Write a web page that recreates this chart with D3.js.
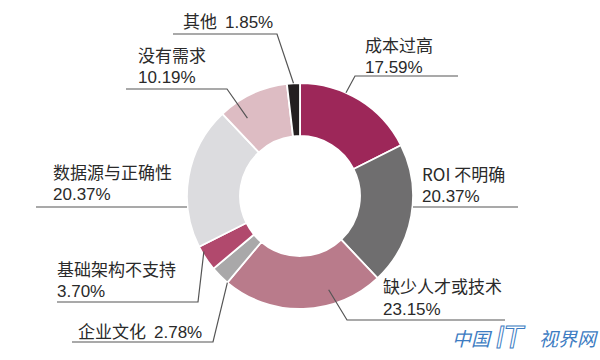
<!DOCTYPE html>
<html>
<head>
<meta charset="utf-8">
<script src="https://cdn.jsdelivr.net/npm/d3@7"></script>
<style>
  html, body { margin: 0; padding: 0; background: #ffffff; }
  svg { display: block; }
</style>
</head>
<body>
<svg id="chart" width="600" height="360"></svg>
<script>
// ---- data ----
const categories = ["成本过高", "ROI 不明确", "缺少人才或技术", "企业文化", "基础架构不支持", "数据源与正确性", "没有需求", "其他"];
const values = [17.59, 20.37, 23.15, 2.78, 3.70, 20.37, 10.19, 1.85];
const colors = ["#9d2759", "#6f6e6f", "#b97b8b", "#a9a8a9", "#b1496d", "#dcdcdf", "#ddbcc3", "#231f20"];

// ---- label layout (annotation placement only) ----
const labelLayout = [
  { x: 365, y1: 52, y2: 73, lineY: 76, x0: 355, x1: 458, elbow: "left",  ang: 24,   r: 113, twoLine: true },
  { x: 422, y1: 181, y2: 202, lineY: 207, x0: 413, x1: 518, elbow: null, twoLine: true },
  { x: 383, y1: 293, y2: 315, lineY: 320, x0: 347, x1: 505, elbow: "left",  ang: 163,  r: 98,  twoLine: true },
  { x: 78,  y1: 338, lineY: 342, x0: 72, x1: 213, elbow: "right", ang: 220, r: 113, twoLine: false },
  { x: 57,  y1: 276, y2: 297, lineY: 302, x0: 57, x1: 198, elbow: "right", ang: 240, r: 111, twoLine: true },
  { x: 53,  y1: 179, y2: 200, lineY: 207, x0: 36, x1: 187, elbow: null, twoLine: true },
  { x: 138, y1: 62, y2: 83, lineY: 89, x0: 126, x1: 227, elbow: "right", ang: -34, r: 94, twoLine: true },
  { x: 183, y1: 28, lineY: 34, x0: 173, x1: 277, elbow: "right", ang: -3.3, r: 113, twoLine: false }
];

const svg = d3.select("#chart");
const cx = 300, cy = 196, rOuter = 113, rInner = 60;
const g = svg.append("g").attr("transform", `translate(${cx},${cy})`);

const pie = d3.pie().sort(null).value(d => d).startAngle(0).endAngle(2 * Math.PI);
const arc = d3.arc().innerRadius(rInner).outerRadius(rOuter);
const arcs = pie(values);

g.selectAll("path.slice")
  .data(arcs)
  .enter().append("path")
  .attr("class", "slice")
  .attr("d", arc)
  .attr("fill", (d, i) => colors[i])
  .attr("stroke", "#ffffff")
  .attr("stroke-width", 1.8);

const fmt = v => v.toFixed(2) + "%";
const font = "'Noto Sans CJK SC', 'Noto Sans', sans-serif";
const numFont = "'Liberation Sans Narrow', 'Liberation Sans', Arial, sans-serif";
const textColor = "#2a2a2a";
const lineColor = "#555555";

labelLayout.forEach((L, i) => {
  let pts = [[L.x0, L.lineY], [L.x1, L.lineY]];
  if (L.elbow) {
    const a = L.ang * Math.PI / 180;
    const end = [cx + L.r * Math.sin(a), cy - L.r * Math.cos(a)];
    if (L.elbow === "left") pts = [end, [L.x0, L.lineY], [L.x1, L.lineY]];
    else pts = [[L.x0, L.lineY], [L.x1, L.lineY], end];
  }
  svg.append("path")
    .attr("d", d3.line()(pts))
    .attr("fill", "none")
    .attr("stroke", lineColor)
    .attr("stroke-width", 1.2);

  if (L.twoLine) {
    svg.append("text")
      .attr("x", L.x).attr("y", L.y1)
      .attr("font-family", font).attr("font-size", 17).attr("fill", textColor)
      .text(categories[i]);
    svg.append("text")
      .attr("x", L.x).attr("y", L.y2)
      .attr("font-family", numFont).attr("font-size", 17).attr("fill", textColor)
      .text(fmt(values[i]));
  } else {
    const t = svg.append("text")
      .attr("x", L.x).attr("y", L.y1)
      .attr("font-family", font).attr("font-size", 17).attr("fill", textColor);
    t.append("tspan").text(categories[i]);
    t.append("tspan").attr("dx", 8).attr("font-family", numFont).text(fmt(values[i]));
  }
});

// watermark logo
const logo = svg.append("g").attr("fill", "#3d7cc2");
logo.append("text").attr("x", 452).attr("y", 346).attr("font-family", font)
  .attr("font-size", 19).attr("font-style", "italic").text("中国");
logo.append("text").attr("x", 496).attr("y", 348).attr("font-family", "'DejaVu Sans', sans-serif")
  .attr("font-size", 30).attr("font-style", "italic").attr("fill", "none")
  .attr("stroke", "#3d7cc2").attr("stroke-width", 1).text("IT");
logo.append("text").attr("x", 539).attr("y", 346).attr("font-family", font)
  .attr("font-size", 19).attr("font-style", "italic").text("视界网");
</script>
</body>
</html>
